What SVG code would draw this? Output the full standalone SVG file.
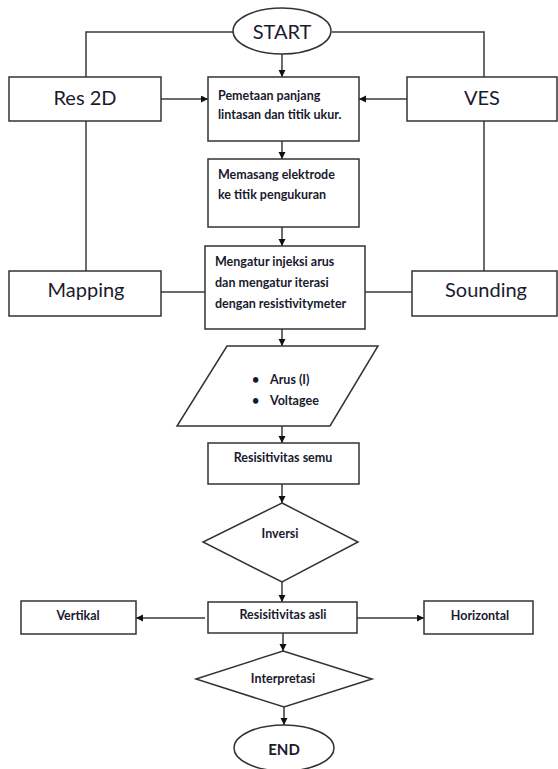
<svg xmlns="http://www.w3.org/2000/svg" width="558" height="769" viewBox="0 0 558 769">
<style>
.shape{fill:#fff;stroke:#333;stroke-width:1.5}
.conn{fill:none;stroke:#3a3a3a;stroke-width:1.5}
.big{font-family:Lato,"Open Sans","Liberation Sans",sans-serif;font-size:20px;fill:#1a1a2e;text-anchor:middle}
.sm{font-family:Lato,"Open Sans","Liberation Sans",sans-serif;font-size:12.5px;font-weight:bold;fill:#1a1a2e}
.mid{text-anchor:middle}
</style>
<defs>
<marker id="arr" markerWidth="8" markerHeight="8" refX="7" refY="3.5" orient="auto" markerUnits="userSpaceOnUse">
<path d="M0,0 L7,3.5 L0,7 z" fill="#111"/>
</marker>
</defs>
<rect width="558" height="769" fill="#fff"/>
<g id="connectors">
<path class="conn" d="M233,32 H86 V77"/>
<path class="conn" d="M332,32 H484 V77"/>
<path class="conn" d="M86,121 V271"/>
<path class="conn" d="M484,121 V271"/>
<path class="conn" d="M161,292 H205"/>
<path class="conn" d="M365,292 H412"/>
<path class="conn" d="M282,54 V77" marker-end="url(#arr)"/>
<path class="conn" d="M161,99 H208" marker-end="url(#arr)"/>
<path class="conn" d="M407,99 H359" marker-end="url(#arr)"/>
<path class="conn" d="M282,141 V159" marker-end="url(#arr)"/>
<path class="conn" d="M282,227 V246" marker-end="url(#arr)"/>
<path class="conn" d="M282,329 V346" marker-end="url(#arr)"/>
<path class="conn" d="M282,426 V443" marker-end="url(#arr)"/>
<path class="conn" d="M282,484 V503" marker-end="url(#arr)"/>
<path class="conn" d="M282,582 V602" marker-end="url(#arr)"/>
<path class="conn" d="M205,618 H136" marker-end="url(#arr)"/>
<path class="conn" d="M357,618 H424" marker-end="url(#arr)"/>
<path class="conn" d="M283,633 V651" marker-end="url(#arr)"/>
<path class="conn" d="M284,707 V725" marker-end="url(#arr)"/>
</g>
<g id="start">
<ellipse class="shape" cx="282" cy="31" rx="49" ry="23"/>
<text class="big" x="282" y="39">START</text>
</g>
<g id="res2d">
<rect class="shape" x="9" y="77" width="152" height="44"/>
<text class="big" x="85" y="105">Res 2D</text>
</g>
<g id="pemetaan">
<rect class="shape" x="208" y="77" width="151" height="64"/>
<text class="sm" x="218" y="100">Pemetaan panjang</text>
<text class="sm" x="218" y="119">lintasan dan titik ukur.</text>
</g>
<g id="ves">
<rect class="shape" x="407" y="77" width="150" height="44"/>
<text class="big" x="482" y="105">VES</text>
</g>
<g id="memasang">
<rect class="shape" x="208" y="159" width="151" height="68"/>
<text class="sm" x="218" y="179">Memasang elektrode</text>
<text class="sm" x="218" y="199">ke titik pengukuran</text>
</g>
<g id="mapping">
<rect class="shape" x="9" y="271" width="152" height="45"/>
<text class="big" x="86" y="297">Mapping</text>
</g>
<g id="mengatur">
<rect class="shape" x="205" y="246" width="160" height="83"/>
<text class="sm" x="215" y="266">Mengatur injeksi arus</text>
<text class="sm" x="215" y="287">dan mengatur iterasi</text>
<text class="sm" x="215" y="308">dengan resistivitymeter</text>
</g>
<g id="sounding">
<rect class="shape" x="412" y="271" width="145" height="45"/>
<text class="big" x="486" y="297">Sounding</text>
</g>
<g id="data">
<polygon class="shape" points="227,346 378,346 330,426 177,426"/>
<text class="sm" x="252" y="384">•</text>
<text class="sm" x="270" y="384">Arus (I)</text>
<text class="sm" x="252" y="405">•</text>
<text class="sm" x="270" y="405">Voltagee</text>
</g>
<g id="semu">
<rect class="shape" x="208" y="443" width="151" height="41"/>
<text class="sm mid" x="283" y="462">Resisitivitas semu</text>
</g>
<g id="inversi">
<polygon class="shape" points="282,503 358,542 282,582 203,542"/>
<text class="sm mid" x="280" y="538">Inversi</text>
</g>
<g id="vertikal">
<rect class="shape" x="21" y="601" width="115" height="33"/>
<text class="sm mid" x="78" y="620">Vertikal</text>
</g>
<g id="asli">
<rect class="shape" x="208" y="602" width="149" height="31"/>
<text class="sm mid" x="283" y="619">Resisitivitas asli</text>
</g>
<g id="horizontal">
<rect class="shape" x="424" y="601" width="109" height="33"/>
<text class="sm mid" x="480" y="620">Horizontal</text>
</g>
<g id="interpretasi">
<polygon class="shape" points="283,651 372,679 284,707 196,679"/>
<text class="sm mid" x="283" y="683">Interpretasi</text>
</g>
<g id="end">
<ellipse class="shape" cx="284" cy="748" rx="50" ry="23"/>
<text class="sm mid" x="284" y="755" style="font-size:15px">END</text>
</g>
</svg>
